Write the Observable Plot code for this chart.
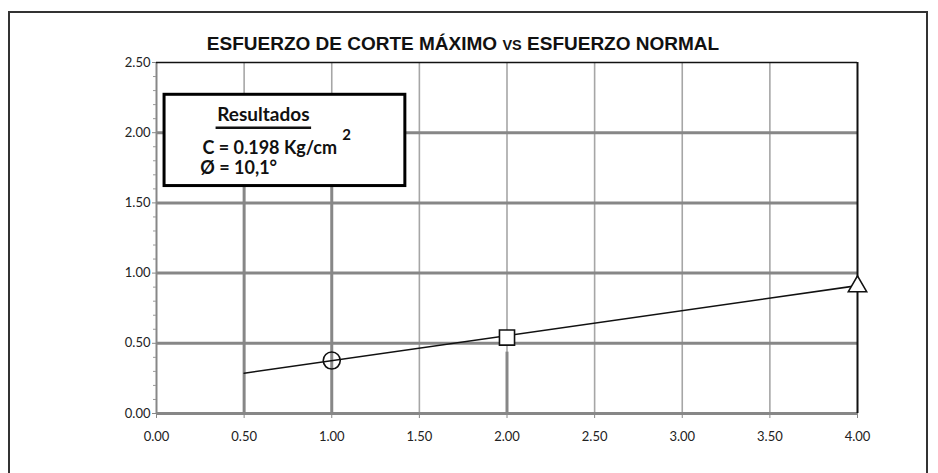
<!DOCTYPE html>
<html>
<head>
<meta charset="utf-8">
<script src="https://cdn.jsdelivr.net/npm/d3@7"></script>
<script src="https://cdn.jsdelivr.net/npm/@observablehq/plot@0.6"></script>
<style>
  html, body { margin: 0; padding: 0; background: #fff; }
  #wrap { position: relative; width: 938px; height: 473px; overflow: hidden; }
  #border { position: absolute; left: 8px; top: 11px; width: 920px; height: 480px;
            border-left: 2.5px solid #333; border-top: 2px solid #333; border-right: 2px solid #333; box-sizing: border-box; }
  #title { position: absolute; left: 0; width: 926px; top: 33px; text-align: center;
           font-family: "Liberation Sans", Arial, sans-serif; font-weight: bold; font-size: 19px; color: #111; }
  #title .vs { font-size: 14.5px; }
  svg { position: absolute; left: 0; top: 0; }
</style>
</head>
<body>
<div id="wrap">
  <div id="border"></div>
  <div id="title">ESFUERZO DE CORTE MÁXIMO <span class="vs">VS</span> ESFUERZO NORMAL</div>
</div>
<script>
// Data
const esfuerzoNormal = [1.0, 2.0, 4.0];        // x, kg/cm2
const esfuerzoCorte  = [0.377, 0.541, 0.905];  // y, kg/cm2
const simbolos       = ["circle", "square", "triangle"];
const tamanos        = [8.5, 8.5, 6.8];
const rectaX = [0.5, 4.0];                     // fitted envelope line
const rectaY = [0.287, 0.911];
const xTicks = [0, 0.5, 1, 1.5, 2, 2.5, 3, 3.5, 4];
const yTicks = [0, 0.5, 1, 1.5, 2, 2.5];
const yMinor = [0.1,0.2,0.3,0.4,0.6,0.7,0.8,0.9,1.1,1.2,1.3,1.4,1.6,1.7,1.8,1.9,2.1,2.2,2.3,2.4];
const xGrid = [0.5, 1, 1.5, 2, 2.5, 3, 3.5];
const yGrid = [0.5, 1, 1.5, 2];
// thick drop lines (x, top)
const caidaX   = [0.5, 1.0, 2.0];
const caidaTop = [1.62, 1.62, 0.437];
// results box
const cajaX = [0.046, 1.42], cajaY = [1.62, 2.27];
const resultadoTitulo = "Resultados";
const resultadoC = "C = 0.198 Kg/cm";
const resultadoExp = "2";
const resultadoPhi = "Ø = 10,1°";

const puntos = esfuerzoNormal.map((x, i) => ({x, y: esfuerzoCorte[i], s: simbolos[i], r: tamanos[i]}));
const recta = rectaX.map((x, i) => ({x, y: rectaY[i]}));
const caidas = caidaX.map((x, i) => ({x, y1: 0, y2: caidaTop[i]}));
const fmt = d3.format(".2f");
const boxFont = "Lato, 'Open Sans', sans-serif";

const plot = Plot.plot({
  width: 938, height: 473,
  marginLeft: 156, marginRight: 81, marginTop: 62, marginBottom: 60,
  x: {domain: [0, 4]},
  y: {domain: [0, 2.5]},
  r: {type: "identity"},
  style: {fontFamily: "Lato, 'Open Sans', sans-serif", fontSize: "13px", color: "#222", background: "transparent"},
  marks: [
    Plot.ruleX(xGrid, {stroke: "#a6a6a6", strokeWidth: 1.6}),
    Plot.ruleY(yGrid, {stroke: "#878787", strokeWidth: 3}),
    Plot.ruleX(caidas, {x: "x", y1: "y1", y2: "y2", stroke: "#878787", strokeWidth: 3}),
    Plot.ruleY([0], {stroke: "#878787", strokeWidth: 3}),
    Plot.ruleX([0], {stroke: "#878787", strokeWidth: 2}),
    Plot.ruleY([2.5], {stroke: "#111", strokeWidth: 1.5}),
    Plot.ruleX([4], {stroke: "#111", strokeWidth: 2}),
    Plot.axisY(yTicks, {tickFormat: fmt, tickSize: 4, tickPadding: 2, stroke: "#878787", label: null, fontSize: 13}),
    Plot.axisY(yMinor, {tickSize: 3, text: null, stroke: "#999", label: null}),
    Plot.axisX(xTicks, {tickFormat: fmt, tickSize: 5, tickPadding: 13, stroke: "#878787", label: null, fontSize: 13}),
    Plot.line(recta, {x: "x", y: "y", stroke: "#111", strokeWidth: 1.6}),
    Plot.dot(puntos.filter(d => d.s === "circle"), {x: "x", y: "y", symbol: "s", r: "r", stroke: "#111", strokeWidth: 1.6, fill: "none"}),
    Plot.dot(puntos.filter(d => d.s !== "circle"), {x: "x", y: "y", symbol: "s", r: "r", stroke: "#111", strokeWidth: 1.6, fill: "white"}),
    Plot.rect([{x1: cajaX[0], x2: cajaX[1], y1: cajaY[0], y2: cajaY[1]}], {x1: "x1", x2: "x2", y1: "y1", y2: "y2", fill: "white", stroke: "#000", strokeWidth: 3}),
    Plot.text([resultadoTitulo], {x: 0.61, y: 2.125, text: d => d, fontWeight: "bold", fontSize: 19, fontFamily: boxFont, fill: "#111"}),
    Plot.ruleY([2.035], {x1: 0.34, x2: 0.885, stroke: "#111", strokeWidth: 2.5}),
    Plot.text([resultadoC], {x: 0.262, y: 1.89, text: d => d, textAnchor: "start", fontWeight: "bold", fontSize: 18, fontFamily: boxFont, fill: "#111"}),
    Plot.text([resultadoExp], {x: 1.06, y: 1.98, text: d => d, textAnchor: "start", fontWeight: "bold", fontSize: 15, fontFamily: boxFont, fill: "#111"}),
    Plot.text([resultadoPhi], {x: 0.25, y: 1.745, text: d => d, textAnchor: "start", fontWeight: "bold", fontSize: 18, fontFamily: boxFont, fill: "#111"})
  ]
});
document.getElementById("wrap").appendChild(plot);
</script>
</body>
</html>
